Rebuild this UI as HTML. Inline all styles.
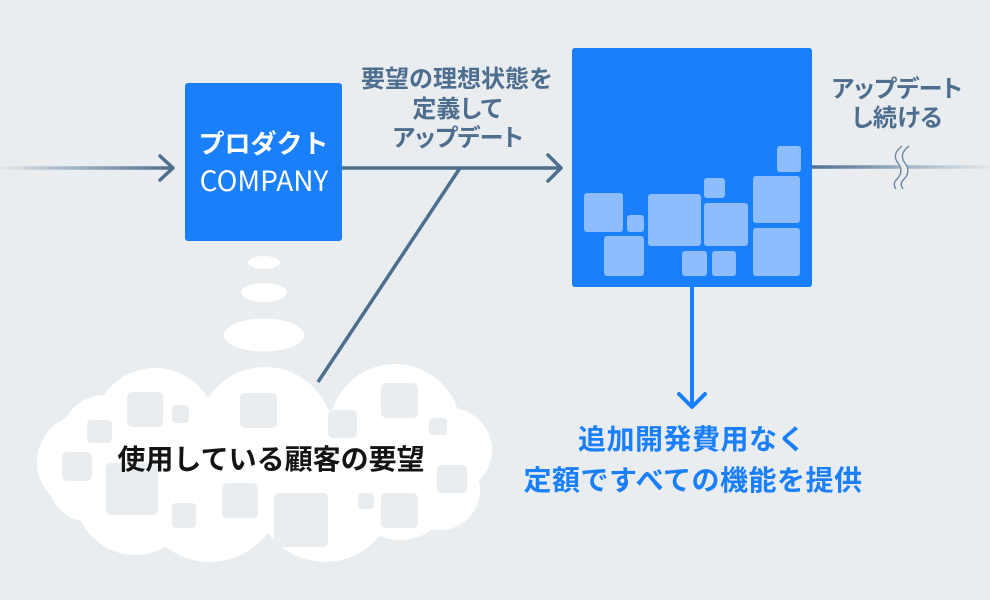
<!DOCTYPE html>
<html><head><meta charset="utf-8"><style>
html,body{margin:0;padding:0;background:#e9edef;}
svg{display:block;}
text{font-family:"Liberation Sans","Noto Sans CJK JP",sans-serif;}
.g{font-family:"Noto Sans CJK JP",sans-serif;font-size:24px;font-weight:bold;fill:#4e6e8f;}
.p{font-feature-settings:"palt";}
.b{font-family:"Noto Sans CJK JP",sans-serif;font-size:28px;font-weight:bold;fill:#1a7ffa;letter-spacing:0.5px;}
</style></head><body>
<svg width="990" height="600" viewBox="0 0 990 600" xmlns="http://www.w3.org/2000/svg">
<defs>
<linearGradient id="gl" gradientUnits="userSpaceOnUse" x1="0" y1="0" x2="172" y2="0">
<stop offset="0" stop-color="#e3e8ec"/><stop offset="1" stop-color="#4e6e90"/>
</linearGradient>
<linearGradient id="gr" gradientUnits="userSpaceOnUse" x1="812" y1="0" x2="990" y2="0">
<stop offset="0" stop-color="#4e6e90"/><stop offset="0.5" stop-color="#9db0c3"/><stop offset="1" stop-color="#e3e8ec"/>
</linearGradient>
</defs>
<rect width="990" height="600" fill="#e9edef"/>

<!-- left incoming line -->
<line x1="0" y1="168" x2="172" y2="168" stroke="url(#gl)" stroke-width="3.5"/>
<polyline points="160,156 173,168 160,180" fill="none" stroke="#4e6e90" stroke-width="3.5" stroke-linecap="round" stroke-linejoin="round"/>

<!-- product box -->
<rect x="185" y="83" width="157" height="158" rx="3" fill="#1a7ffa"/>
<text x="263.5" y="153" text-anchor="middle" font-size="26" font-weight="bold" fill="#fff" style="font-family:'Noto Sans CJK JP',sans-serif">プロダクト</text>
<text x="264" y="191" text-anchor="middle" font-size="28" fill="#fff" style="font-family:'Noto Sans CJK JP','Liberation Sans',sans-serif">COMPANY</text>

<!-- middle arrow -->
<line x1="342" y1="168" x2="561" y2="168" stroke="#4e6e90" stroke-width="3.5"/>
<polyline points="548,155 561,168 548,181" fill="none" stroke="#4e6e90" stroke-width="3.5" stroke-linecap="round" stroke-linejoin="round"/>

<!-- diagonal -->
<line x1="460" y1="168" x2="318" y2="382" stroke="#4e6e90" stroke-width="3.5"/>

<!-- gray label -->
<text class="g" x="457" y="87" text-anchor="middle">要望の理想状態を</text>
<text class="g p" x="457" y="117" text-anchor="middle">定義して</text>
<text class="g p" x="458" y="146" text-anchor="middle">アップデート</text>

<!-- big box -->
<rect x="572" y="48" width="240" height="239" rx="3" fill="#1a7ffa"/>
<g fill="#8dbdfd">
<rect x="584" y="193" width="39" height="39" rx="3"/>
<rect x="627" y="215" width="17" height="17" rx="3"/>
<rect x="604" y="236" width="40" height="40" rx="3"/>
<rect x="648" y="194" width="53" height="52" rx="3"/>
<rect x="704" y="178" width="21" height="20" rx="3"/>
<rect x="704" y="203" width="44" height="43" rx="3"/>
<rect x="682" y="251" width="25" height="25" rx="3"/>
<rect x="712" y="251" width="24" height="25" rx="3"/>
<rect x="753" y="176" width="47" height="47" rx="3"/>
<rect x="777" y="146" width="24" height="26" rx="3"/>
<rect x="753" y="228" width="47" height="48" rx="3"/>
</g>

<!-- right line -->
<line x1="812" y1="167" x2="990" y2="167" stroke="url(#gr)" stroke-width="3.5"/>
<path d="M905,146 C897,152 897,158 901,163 C905,168 905,174 900,179 C896,183 897,186 899,189" fill="none" stroke="#e9edef" stroke-width="7"/>
<path d="M902,146 C894,152 894,158 898,163 C902,168 902,174 897,179 C893,183 894,186 896,189" fill="none" stroke="#6a86a2" stroke-width="1.4"/>
<path d="M909,146 C901,152 901,158 905,163 C909,168 909,174 904,179 C900,183 901,186 903,189" fill="none" stroke="#6a86a2" stroke-width="1.4"/>
<text class="g p" x="897" y="97" text-anchor="middle">アップデート</text>
<text class="g p" x="897" y="126" text-anchor="middle">し続ける</text>

<!-- down arrow -->
<line x1="692" y1="287" x2="692" y2="406" stroke="#1a7ffa" stroke-width="4"/>
<polyline points="679,394 692,407 705,394" fill="none" stroke="#1a7ffa" stroke-width="4" stroke-linecap="round" stroke-linejoin="round"/>
<text class="b" x="692" y="449" text-anchor="middle">追加開発費用なく</text>
<text class="b" x="693" y="490" text-anchor="middle">定額ですべての機能を提供</text>

<!-- thought bubbles -->
<g fill="#fff">
<ellipse cx="264" cy="262.5" rx="16" ry="6.5"/>
<ellipse cx="264" cy="292.5" rx="23" ry="9.5"/>
<ellipse cx="264" cy="335" rx="40" ry="16.5"/>
</g>

<!-- cloud -->
<g fill="#fff">
<circle cx="85" cy="462" r="48"/>
<circle cx="105" cy="440" r="45"/>
<circle cx="155" cy="430" r="62"/>
<circle cx="265" cy="435" r="68"/>
<circle cx="395" cy="430" r="66"/>
<circle cx="450" cy="450" r="42"/>
<circle cx="440" cy="490" r="40"/>
<circle cx="400" cy="485" r="55"/>
<circle cx="325" cy="492" r="70"/>
<circle cx="210" cy="490" r="72"/>
<circle cx="135" cy="495" r="60"/>
<circle cx="90" cy="480" r="42"/>
<rect x="100" y="410" width="360" height="110"/>
</g>
<g fill="#e9edef">
<rect x="127" y="392" width="36" height="35" rx="5"/>
<rect x="172" y="405" width="17" height="18" rx="4"/>
<rect x="240" y="393" width="37" height="35" rx="5"/>
<rect x="328" y="410" width="29" height="28" rx="5"/>
<rect x="381" y="383" width="37" height="35" rx="5"/>
<rect x="429" y="418" width="18" height="17" rx="4"/>
<rect x="87" y="420" width="25" height="23" rx="4"/>
<rect x="62" y="452" width="30" height="29" rx="5"/>
<rect x="106" y="463" width="52" height="52" rx="5"/>
<rect x="172" y="503" width="24" height="25" rx="4"/>
<rect x="222" y="483" width="36" height="35" rx="5"/>
<rect x="274" y="493" width="54" height="54" rx="5"/>
<rect x="358" y="493" width="16" height="16" rx="4"/>
<rect x="381" y="493" width="37" height="35" rx="5"/>
<rect x="437" y="465" width="30" height="28" rx="5"/>
</g>
<text x="271" y="469" text-anchor="middle" font-size="28" font-weight="bold" fill="#141414" style="font-family:'Noto Sans CJK JP',sans-serif">使用している顧客の要望</text>
</svg>
</body></html>
